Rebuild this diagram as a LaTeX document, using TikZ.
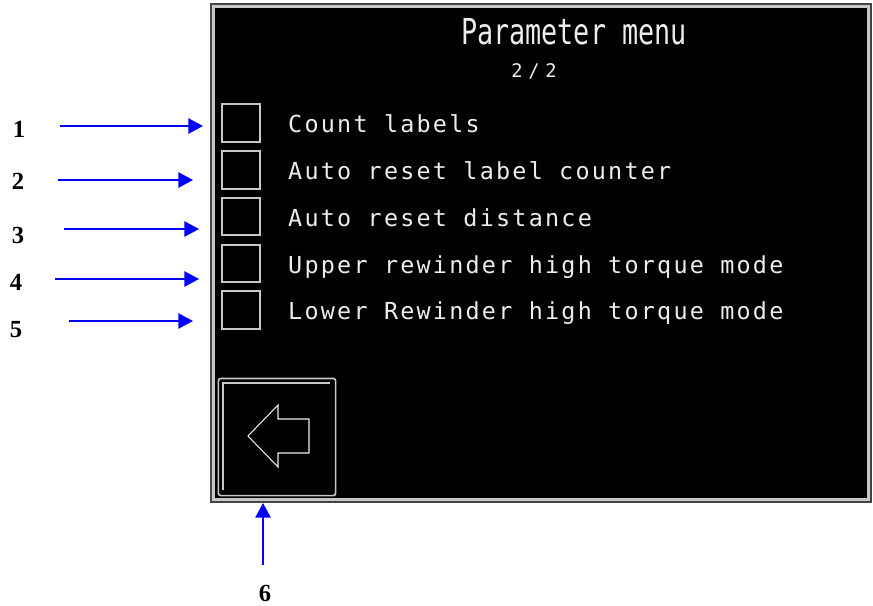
\documentclass[tikz,border=0pt]{standalone}
\usepackage{graphicx}
\usepackage{fontspec}
\setmainfont{Liberation Serif}
\newfontfamily\dotfont[LetterSpace=9.5]{DejaVu Sans Mono}
\newfontfamily\smalldotfont[LetterSpace=30]{DejaVu Sans Mono}
\newfontfamily\headfont{DejaVu Sans Mono}
\usepackage{tikz}
\usetikzlibrary{positioning}
\usetikzlibrary{arrows.meta}
\definecolor{pointerblue}{rgb}{0,0,1}
\definecolor{framedark}{rgb}{0.27,0.27,0.27}
\definecolor{framelight}{rgb}{0.78,0.78,0.78}
\definecolor{lcdtext}{rgb}{0.93,0.93,0.93}
\tikzset{
number/.style={font=\bfseries\fontsize{21}{21}\selectfont, text=black, inner sep=0pt},
pointer/.style={draw=pointerblue, line width=1.6pt, -{Triangle[length=12.5pt, width=13pt]}},
checkbox/.style={rectangle, draw=framelight, line width=1.5pt, minimum size=32pt, inner sep=0pt},
entry/.style={font=\dotfont\fontsize{20}{20}\selectfont, text=lcdtext, inner sep=0pt, anchor=base west},
heading/.style={font=\headfont\fontsize{30.5}{31}\selectfont, text=lcdtext, inner sep=0pt},
pageno/.style={font=\smalldotfont\fontsize{16}{16}\selectfont, text=lcdtext, inner sep=0pt},
backbutton/.style={rectangle, rounded corners=2pt, draw=framelight, line width=1.4pt, minimum size=100pt, inner sep=0pt}
}

\begin{document}
\begin{tikzpicture}[x=0.03cm, y=-0.03cm]
    \useasboundingbox (0,0) rectangle (873,605);
    % screen frame
    \fill[framedark] (210,3) rectangle (872,503);
    \draw[framelight, line width=2.6pt] (213.5,6.5) rectangle (868.5,499.5);
    \fill[black] (215,8) rectangle (867,498);

    \node[heading] (title) at (574,32) {\scalebox{0.75}[1]{Parameter menu}};
    \node[pageno] (page) at (534,71) {2/2};

    \node[checkbox] (box_1) at (241,123) {};
    \node[checkbox] (box_2) at (241,170) {};
    \node[checkbox] (box_3) at (241,216.5) {};
    \node[checkbox] (box_4) at (241,263.5) {};
    \node[checkbox] (box_5) at (241,310) {};

    \node[entry] (entry_1) at (288,132) {Count labels};
    \node[entry] (entry_2) at (288,179.5) {Auto reset label counter};
    \node[entry] (entry_3) at (288,226) {Auto reset distance};
    \node[entry] (entry_4) at (288,273) {Upper rewinder high torque mode};
    \node[entry] (entry_5) at (288,319.5) {Lower Rewinder high torque mode};

    % back button
    \node[backbutton] (back) at (277,437) {};
    \draw[framelight, line width=1.2pt] (223,490) -- (223,383) -- (330,383);
    \draw[lcdtext, line width=0.9pt] (248,436) -- (278,405) -- (278,419) -- (309,419)
        -- (309,453) -- (278,453) -- (278,467) -- cycle;

    % callouts
    \node[number] (n_1) at (19,129) {1};
    \node[number] (n_2) at (18,181) {2};
    \node[number] (n_3) at (18,235) {3};
    \node[number] (n_4) at (16,282) {4};
    \node[number] (n_5) at (16,330) {5};
    \node[number] (n_6) at (265,593) {6};

    \coordinate (s_1) at (60,126);  \coordinate (t_1) at (203,126);
    \coordinate (s_2) at (58,180);  \coordinate (t_2) at (193,180);
    \coordinate (s_3) at (64,229);  \coordinate (t_3) at (199,229);
    \coordinate (s_4) at (55,279);  \coordinate (t_4) at (199,279);
    \coordinate (s_5) at (69,321);  \coordinate (t_5) at (193,321);
    \coordinate (s_6) at (263,565); \coordinate (t_6) at (263,503);

    \draw[pointer] (s_1) -- (t_1);
    \draw[pointer] (s_2) -- (t_2);
    \draw[pointer] (s_3) -- (t_3);
    \draw[pointer] (s_4) -- (t_4);
    \draw[pointer] (s_5) -- (t_5);
    \draw[pointer] (s_6) -- (t_6);
\end{tikzpicture}
\end{document}
